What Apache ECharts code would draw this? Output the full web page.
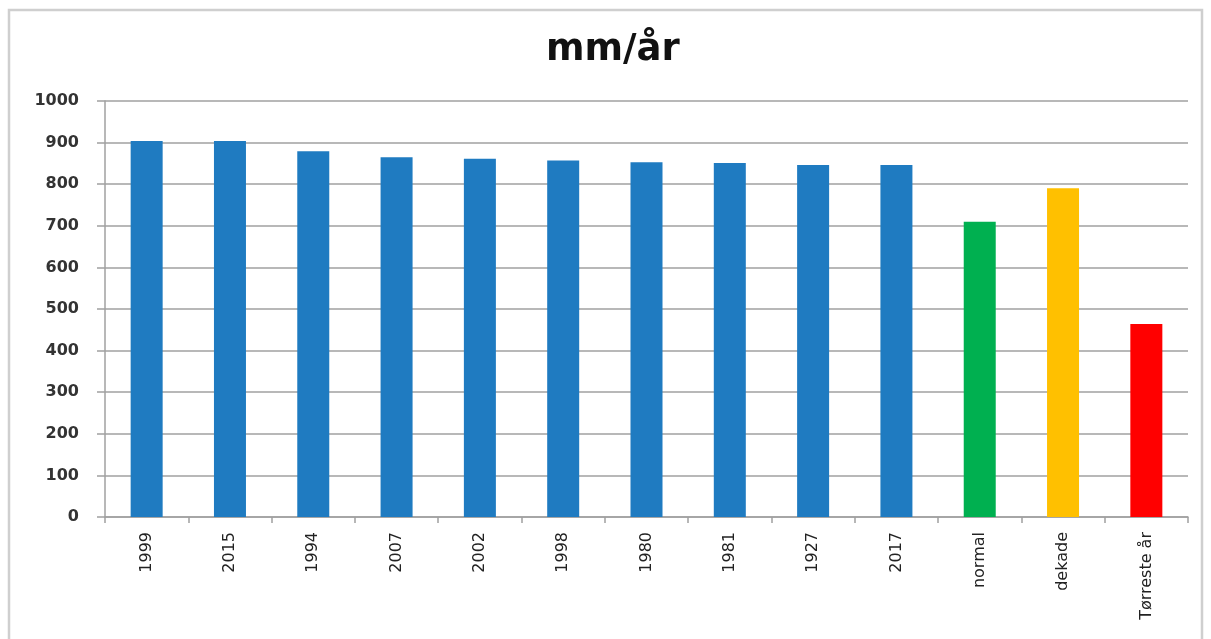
<!DOCTYPE html>
<html>
<head>
    <meta charset="utf-8">
    <title>mm/år</title>
    <script src="https://cdn.jsdelivr.net/npm/echarts@6/dist/echarts.min.js"></script>
    <style>
        html, body { margin: 0; padding: 0; background: #fff; }
    </style>
</head>
<body>
    <div id="main" style="width: 1211px;height:639px;"></div>
    <script type="text/javascript">
        // data
        var categories = ["1999", "2015", "1994", "2007", "2002", "1998", "1980", "1981", "1927", "2017", "normal", "dekade", "Tørreste år"];
        var values = [904, 904, 879, 865, 861, 857, 853, 851, 846, 846, 710, 790, 464];
        var barColors = ["#1f7bc1", "#1f7bc1", "#1f7bc1", "#1f7bc1", "#1f7bc1", "#1f7bc1", "#1f7bc1", "#1f7bc1", "#1f7bc1", "#1f7bc1", "#00b050", "#ffc000", "#ff0000"];
        var yTicks = [0, 100, 200, 300, 400, 500, 600, 700, 800, 900, 1000];

        var myChart = echarts.init(document.getElementById('main'));

        var seriesData = [];
        values.forEach(function (v, i) {
            seriesData.push({
                value: v,
                itemStyle: { color: barColors[i] }
            });
        });

        var option = {
            backgroundColor: "#fff",
            animation: false,
            graphic: [
                {
                    type: "rect",
                    shape: { x: 9, y: 10, width: 1193, height: 700 },
                    style: { fill: "none", stroke: "#cfcfcf", lineWidth: 2.5 },
                    silent: true,
                    z: 0
                }
            ],
            title: {
                text: "mm/år",
                left: 541,
                top: 27,
                textStyle: {
                    fontFamily: "DejaVu Sans",
                    fontWeight: "bold",
                    fontSize: 37,
                    color: "#111"
                }
            },
            grid: {
                left: 105,
                right: 23,
                top: 101,
                bottom: 122
            },
            xAxis: {
                type: "category",
                data: categories,
                axisLine: { lineStyle: { color: "#a0a0a0", width: 1.5 } },
                axisTick: { show: true, length: 6, alignWithLabel: false, lineStyle: { color: "#a0a0a0", width: 1.5 } },
                axisLabel: {
                    rotate: 90,
                    margin: 15,
                    interval: 0,
                    fontFamily: "DejaVu Sans",
                    fontSize: 16,
                    color: "#222"
                }
            },
            yAxis: {
                type: "value",
                min: yTicks[0],
                max: yTicks[yTicks.length - 1],
                interval: 100,
                axisLine: { show: true, lineStyle: { color: "#a0a0a0", width: 1.5 } },
                axisTick: { show: true, length: 8, lineStyle: { color: "#a0a0a0", width: 1.5 } },
                splitLine: { lineStyle: { color: "#a0a0a0", width: 1.5 } },
                axisLabel: {
                    margin: 26,
                    fontFamily: "DejaVu Sans",
                    fontWeight: "bold",
                    fontSize: 16,
                    color: "#333",
                    formatter: function (v) { return String(v); }
                }
            },
            series: [
                {
                    type: "bar",
                    barWidth: 32,
                    data: seriesData
                }
            ]
        };

        myChart.setOption(option);
    </script>
</body>
</html>
